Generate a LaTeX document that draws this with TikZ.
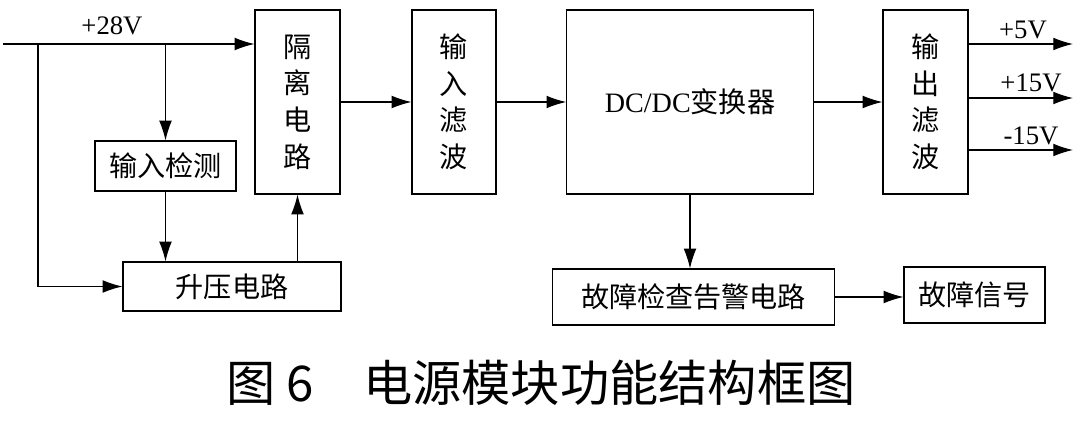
\documentclass[tikz,border=0pt]{standalone}
\usepackage{fontspec}
\setmainfont{Noto Sans CJK SC}
\newfontfamily\latin{Liberation Serif}
\usetikzlibrary{arrows.meta}

\tikzset{
  blk/.style={draw, line width=0.8pt, inner sep=0pt, font=\fontsize{20}{26}\selectfont, align=center},
  volt/.style={font=\latin\fontsize{19}{21}\selectfont, inner sep=0pt}
}

\begin{document}
\begin{tikzpicture}[x=0.025cm, y=-0.025cm, line width=0.8pt, >={Latex[length=14pt,width=9pt]}]

\useasboundingbox (0,0) rectangle (1080,421);

% blocks
\node[blk, minimum width=2.125cm, minimum height=4.6cm]   (geli)    at (297.5,102)   {隔\\离\\电\\路};
\node[blk, minimum width=3.525cm, minimum height=1.25cm]  (jiance)  at (165.5,166)   {输入检测};
\node[blk, minimum width=5.45cm,  minimum height=1.225cm] (shengya) at (232,286.5)   {升压电路};
\node[blk, minimum width=2.1cm,   minimum height=4.6cm]   (shuru)   at (454,102)     {输\\入\\滤\\波};
\node[blk, minimum width=6.16cm,  minimum height=4.6cm]   (dcdc)    at (690,102)     {{\latin DC/DC}变换器};
\node[blk, minimum width=2.125cm, minimum height=4.6cm]   (shuchu)  at (925.5,102)   {输\\出\\滤\\波};
\node[blk, minimum width=7.03cm,  minimum height=1.4cm]   (guzhang) at (693.5,297)   {故障检查告警电路};
\node[blk, minimum width=3.525cm, minimum height=1.4cm]   (xinhao)  at (974.5,295)   {故障信号};

% input side
\coordinate (in) at (3,44);
\coordinate (br) at (38,44);
\draw[->] (in) -- (in -| geli.west);
\node[volt] (v28) at (112,26) {+28V};
\draw[->] (br) |- (shengya.west);
\draw[->] (jiance.north |- in) -- (jiance.north);
\draw[->] (jiance.south) -- (jiance.south |- shengya.north);
\draw[->] (shengya.north -| geli.south) -- (geli.south);

% main chain
\draw[->] (geli) -- (shuru);
\draw[->] (shuru) -- (dcdc);
\draw[->] (dcdc) -- (shuchu);
\draw[->] (dcdc.south) -- (dcdc.south |- guzhang.north);
\draw[->] (guzhang.east) -- (guzhang.east -| xinhao.west);

% outputs
\coordinate (o1) at (1073,44);
\coordinate (o2) at (1073,98);
\coordinate (o3) at (1073,150);
\draw[->] (o1 -| shuchu.east) -- (o1);
\draw[->] (o2 -| shuchu.east) -- (o2);
\draw[->] (o3 -| shuchu.east) -- (o3);
\node[volt] (v5)  at (1023,30)  {+5V};
\node[volt] (v15) at (1031,83)  {+15V};
\node[volt] (vm15) at (1031,136) {-15V};

% caption
\node[font=\fontsize{35}{40}\selectfont, inner sep=0pt] (cap) at (541,383) {图 6\quad 电源模块功能结构框图};

\end{tikzpicture}
\end{document}
